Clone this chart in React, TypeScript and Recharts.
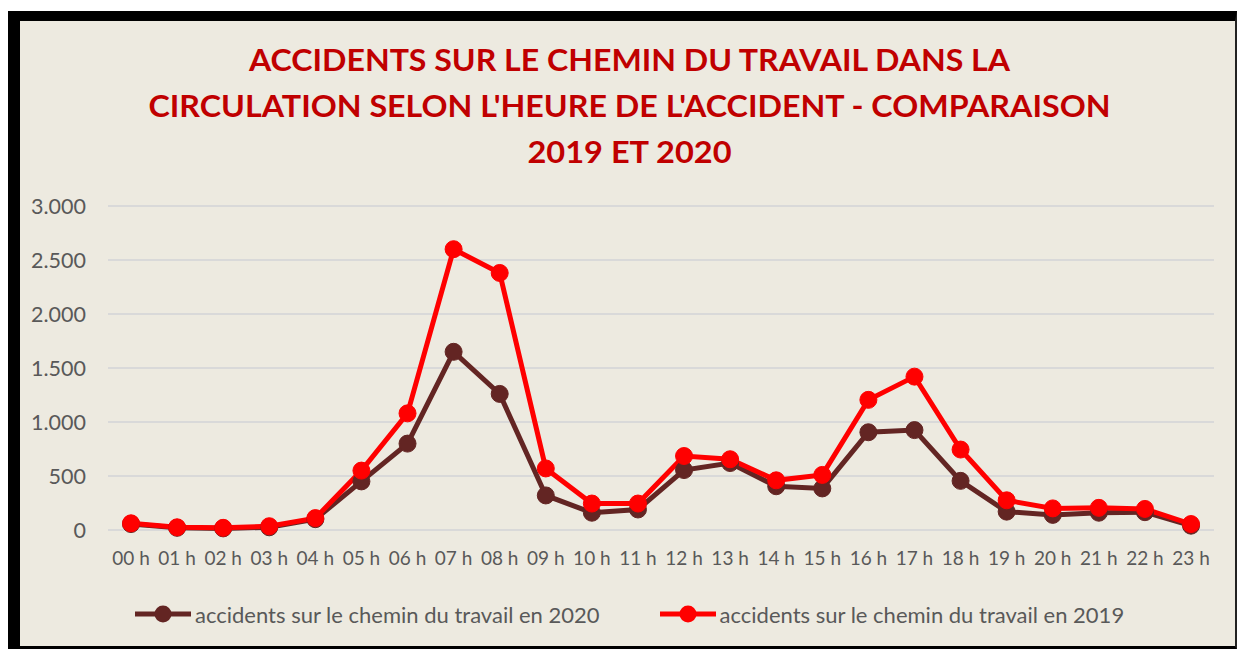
import React from 'react';
import { LineChart, Line, XAxis, YAxis, CartesianGrid } from 'recharts';

const hours = [
  '00 h', '01 h', '02 h', '03 h', '04 h', '05 h', '06 h', '07 h', '08 h', '09 h', '10 h', '11 h',
  '12 h', '13 h', '14 h', '15 h', '16 h', '17 h', '18 h', '19 h', '20 h', '21 h', '22 h', '23 h',
];
const accidents2020 = [55, 20, 15, 25, 100, 450, 800, 1650, 1260, 320, 160, 190, 555, 620, 405, 385, 905, 925, 455, 170, 140, 160, 165, 40];
const accidents2019 = [62, 25, 20, 35, 110, 550, 1080, 2600, 2380, 570, 245, 245, 685, 655, 460, 510, 1205, 1420, 745, 275, 200, 205, 195, 55];
const yTicks = [0, 500, 1000, 1500, 2000, 2500, 3000];
const titleLines = [
  'ACCIDENTS SUR LE CHEMIN DU TRAVAIL DANS LA',
  "CIRCULATION SELON L'HEURE DE L'ACCIDENT - COMPARAISON",
  '2019 ET 2020',
];

const series = [
  { key: 'y2020', name: 'accidents sur le chemin du travail en 2020', color: '#632523' },
  { key: 'y2019', name: 'accidents sur le chemin du travail en 2019', color: '#FF0000' },
];

const data = hours.map((h, i) => ({ hour: h, y2020: accidents2020[i], y2019: accidents2019[i] }));

const BG = '#EDEAE0';
const FONT = 'Lato, "Open Sans", sans-serif';

// thousands with a dot, like the french excel export
const fmt = (v: number) => (v >= 1000 ? `${Math.floor(v / 1000)}.${String(v % 1000).padStart(3, '0')}` : `${v}`);

const titleWidths = [761, 962, 204];

export default function App() {
  return (
    <div style={{ position: 'absolute', left: 0, top: 0, width: 1239, height: 649, background: '#fff', overflow: 'hidden' }}>
      {/* frame */}
      <div
        style={{
          position: 'absolute', left: 8, top: 11, width: 1215, height: 625,
          background: BG, borderLeft: '12px solid #000', borderTop: '10px solid #000',
          borderRight: '2px solid #222', borderBottom: '4px solid #000',
        }}
      />
      <div style={{ position: 'absolute', left: 0, top: 0 }}>
        <LineChart width={1239} height={649} data={data} margin={{ top: 206, right: 25, bottom: 79, left: 0 }}>
          <CartesianGrid vertical={false} stroke="#D9D9D9" strokeWidth={2} />
          <XAxis
            dataKey="hour"
            height={40}
            interval={0}
            padding={{ left: 23, right: 23 }}
            axisLine={false}
            tickLine={false}
            tickMargin={16}
            tick={{ fill: '#595959', fontSize: 19, fontFamily: FONT }}
          />
          <YAxis
            width={108}
            domain={[0, 3000]}
            ticks={yTicks}
            tickFormatter={fmt}
            axisLine={false}
            tickLine={false}
            tickMargin={16}
            tick={{ fill: '#595959', fontSize: 21.5, fontFamily: FONT }}
          />
          {series.map((s) => (
            <Line
              key={s.key}
              dataKey={s.key}
              name={s.name}
              stroke={s.color}
              strokeWidth={5}
              dot={{ r: 8.5, fill: s.color, stroke: s.color, strokeWidth: 1 }}
              isAnimationActive={false}
            />
          ))}
        </LineChart>
      </div>
      {/* title */}
      <svg width={1239} height={180} style={{ position: 'absolute', left: 0, top: 0 }}>
        {titleLines.map((t, i) => (
          <text
            key={i}
            x={629.5}
            y={71 + i * 46}
            textAnchor="middle"
            textLength={titleWidths[i]}
            lengthAdjust="spacingAndGlyphs"
            fill="#C00000"
            fontFamily={FONT}
            fontWeight={700}
            fontSize={31}
          >
            {t}
          </text>
        ))}
      </svg>
      {/* legend */}
      <div style={{ position: 'absolute', left: 135, top: 600, display: 'flex', gap: 60, fontFamily: FONT, fontSize: 22, color: '#595959' }}>
        {series.map((s) => (
          <div key={s.key} style={{ display: 'flex', alignItems: 'center', height: 28 }}>
            <svg width={56} height={28}>
              <line x1={0} y1={14} x2={56} y2={14} stroke={s.color} strokeWidth={5} />
              <circle cx={28} cy={14} r={8.5} fill={s.color} />
            </svg>
            <span style={{ marginLeft: 4, whiteSpace: 'nowrap' }}>{s.name}</span>
          </div>
        ))}
      </div>
    </div>
  );
}
